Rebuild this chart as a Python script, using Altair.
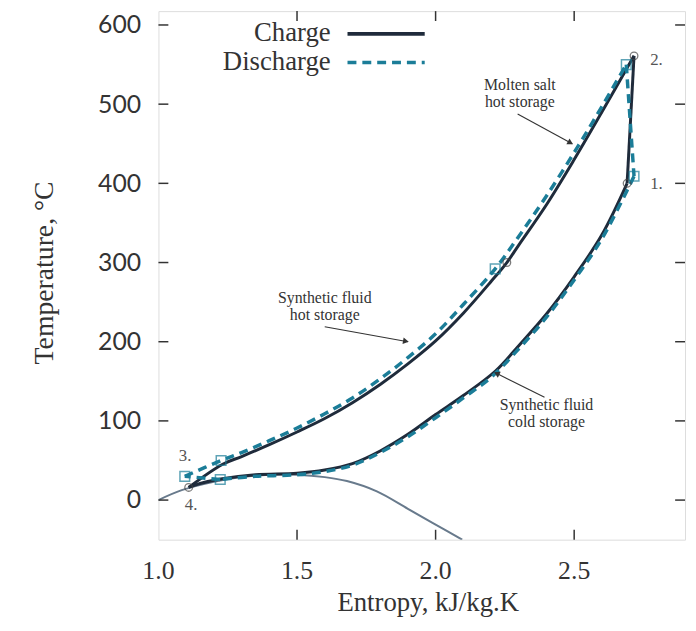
import math
import altair as alt
import pandas as pd

# ---------------- data ----------------
# Charge cycle (solid): hot-storage branch (4 -> 2), compression (2 -> 1), cold-storage branch (1 -> 4)
charge_hot_s = [1.109, 1.23, 1.3, 1.4, 1.5, 1.6, 1.7, 1.8, 1.9, 2.0, 2.1, 2.2, 2.257, 2.3, 2.4, 2.5, 2.6, 2.716]
charge_hot_T = [16, 45, 55, 70, 86, 103, 123, 146, 172, 201, 236, 276, 300, 322, 373, 430, 490, 561]
charge_comp_s = [2.716, 2.691]
charge_comp_T = [561, 400]
charge_cold_s = [2.691, 2.6, 2.5, 2.4, 2.3, 2.216, 2.1, 2.0, 1.9, 1.8, 1.7, 1.6, 1.5, 1.35, 1.23, 1.15, 1.109]
charge_cold_T = [400, 335, 282, 235, 195, 163, 132, 108, 83, 62, 46, 38, 34, 32, 27, 21, 16]

# Discharge cycle (dashed)
dis_hot_s = [1.095, 1.226, 1.3, 1.4, 1.5, 1.6, 1.7, 1.8, 1.9, 2.0, 2.1, 2.215, 2.3, 2.4, 2.5125, 2.6, 2.688]
dis_hot_T = [30, 50, 60, 75, 91, 109, 129, 153, 180, 210, 247, 292, 333, 384, 446, 497, 550]
dis_exp_s = [2.688, 2.716]
dis_exp_T = [550, 409]
dis_cold_s = [2.716, 2.6, 2.5, 2.4, 2.3, 2.2, 2.1, 2.0, 1.9, 1.8, 1.7, 1.6, 1.5, 1.35, 1.223]
dis_cold_T = [409, 330, 278, 231, 191, 155, 129, 104, 80, 60, 44, 36, 32, 30, 26]
dis_close_s = [1.223, 1.095]
dis_close_T = [26, 30]

# Grey curve
grey_s = [1.0, 1.084, 1.2, 1.3, 1.4, 1.5, 1.6, 1.68, 1.788, 1.9, 2.0, 2.096]
grey_T = [0, 12.5, 23, 29, 32, 32, 29, 24, 11, -11, -31, -50]

# State-point markers
charge_pts_s = [1.109, 2.257, 2.716, 2.691]
charge_pts_T = [16, 300, 561, 400]
dis_pts_s = [1.095, 1.226, 1.223, 2.215, 2.688, 2.716]
dis_pts_T = [30, 50, 26, 292, 550, 409]

# State-point labels
pt_labels = ["1.", "2.", "3.", "4."]
pt_labels_s = [2.797, 2.797, 1.096, 1.118]
pt_labels_T = [399, 556, 55, -6]

# Annotations
note_text = ["Molten salt", "hot storage", "Synthetic fluid", "hot storage", "Synthetic fluid", "cold storage"]
note_s = [2.304, 2.304, 1.6, 1.6, 2.4, 2.4]
note_T = [524, 503, 255, 234, 120, 99]
arrow_s0 = [2.296, 1.6, 2.393]
arrow_T0 = [487.5, 219, 130]
arrow_s1 = [2.493, 1.9, 2.214]
arrow_T1 = [450, 200, 161]

# Axes
x_ticks = [1.0, 1.5, 2.0, 2.5]
y_ticks = [0, 100, 200, 300, 400, 500, 600]
x_domain = [1.0, 2.9]
y_domain = [-50, 617.5]
legend_names = ["Charge", "Discharge"]

# ---------------- styling ----------------
W, H = 532, 534
PX_S = W / (x_domain[1] - x_domain[0])
PX_T = H / (y_domain[1] - y_domain[0])
C_CHARGE = "#1f2b3b"
C_DIS = "#1b7d98"
C_GREY = "#687a8c"
C_TEXT = "#333333"
SERIF = "Liberation Serif"


def seg(xs, ts, name):
    return pd.DataFrame({"s": xs, "T": ts, "i": list(range(len(xs))), "seg": name})


charge_df = pd.concat([
    seg(charge_hot_s, charge_hot_T, "hot"),
    seg(charge_comp_s, charge_comp_T, "comp"),
    seg(charge_cold_s, charge_cold_T, "cold"),
])
dis_df = pd.concat([
    seg(dis_hot_s, dis_hot_T, "hot"),
    seg(dis_exp_s, dis_exp_T, "exp"),
    seg(dis_cold_s, dis_cold_T, "cold"),
    seg(dis_close_s, dis_close_T, "close"),
])
grey_df = seg(grey_s, grey_T, "grey")

xs = alt.Scale(domain=x_domain, nice=False, zero=False)
ys = alt.Scale(domain=y_domain, nice=False, zero=False)
xaxis = alt.Axis(
    title="Entropy, kJ/kg.K", values=x_ticks, labels=False, ticks=False, domain=False, grid=False,
    titleFont=SERIF, titleFontSize=27, titleFontWeight="normal", titleColor=C_TEXT,
    titleX=W / 2 + 6, titleY=72, titleBaseline="alphabetic", titleAlign="center",
)
yaxis = alt.Axis(
    title="Temperature, °C", values=y_ticks, ticks=False, domain=False, grid=False,
    labelFont="Lato", labelFontSize=25, labelColor=C_TEXT, labelPadding=18, labelFlush=False,
    titleFont=SERIF, titleFontSize=28, titleFontWeight="normal", titleColor=C_TEXT,
    titleX=-115, titleY=264, titleAngle=270, titleBaseline="middle", titleAlign="center",
)
X = alt.X("s:Q", scale=xs, axis=xaxis)
Y = alt.Y("T:Q", scale=ys, axis=yaxis)

grey = alt.Chart(grey_df).mark_line(
    color=C_GREY, strokeWidth=2, interpolate="catmull-rom", clip=True).encode(
    x=X, y=Y, order="i:Q")
charge = alt.Chart(charge_df).mark_line(
    color=C_CHARGE, strokeWidth=3, interpolate="catmull-rom", clip=True).encode(
    x=X, y=Y, detail="seg:N", order="i:Q")
dis = alt.Chart(dis_df).mark_line(
    color=C_DIS, strokeWidth=3.5, strokeDash=[9, 6], interpolate="catmull-rom", clip=True).encode(
    x=X, y=Y, detail="seg:N", order="i:Q")

charge_pts = alt.Chart(pd.DataFrame({"s": charge_pts_s, "T": charge_pts_T})).mark_point(
    shape="circle", size=60, filled=False, color="#444444", strokeWidth=1.3).encode(x=X, y=Y)
dis_pts = alt.Chart(pd.DataFrame({"s": dis_pts_s, "T": dis_pts_T})).mark_point(
    shape="square", size=95, filled=False, color=C_DIS, strokeWidth=1.5).encode(x=X, y=Y)

pt_text = alt.Chart(pd.DataFrame({"s": pt_labels_s, "T": pt_labels_T, "t": pt_labels})).mark_text(
    font=SERIF, fontSize=17, color="#555555", align="center", baseline="middle").encode(
    x=X, y=Y, text="t:N")
notes = alt.Chart(pd.DataFrame({"s": note_s, "T": note_T, "t": note_text})).mark_text(
    font=SERIF, fontSize=16, color=C_TEXT, align="center", baseline="middle").encode(
    x=X, y=Y, text="t:N")

# x tick labels (serif, as in the reference)
xlab = alt.Chart(pd.DataFrame({"s": x_ticks, "t": [f"{v:.1f}" for v in x_ticks]})).mark_text(
    font=SERIF, fontSize=26, color=C_TEXT, align="center", baseline="alphabetic").encode(
    x=X, y=alt.value(H + 40), text="t:N")

# arrows
arr = pd.DataFrame({"s": arrow_s0, "T": arrow_T0, "s2": arrow_s1, "T2": arrow_T1})
dxp = (arr["s2"] - arr["s"]) * PX_S
dyp = -(arr["T2"] - arr["T"]) * PX_T
length = (dxp ** 2 + dyp ** 2) ** 0.5
arr["ang"] = [(math.degrees(math.atan2(a, -b)) + 360) % 360 for a, b in zip(dxp, dyp)]
arr["hs"] = arr["s2"] - (dxp / length) * 3 / PX_S
arr["hT"] = arr["T2"] + (dyp / length) * 3 / PX_T
arrow_lines = alt.Chart(arr).mark_rule(color=C_TEXT, strokeWidth=1.1).encode(
    x=X, y=Y, x2="s2:Q", y2="T2:Q")
arrow_heads = alt.Chart(arr).mark_point(
    shape="triangle", size=45, filled=True, color=C_TEXT, opacity=1).encode(
    x=alt.X("hs:Q", scale=xs, axis=xaxis), y=alt.Y("hT:Q", scale=ys, axis=yaxis),
    angle=alt.Angle("ang:Q", scale=None))

# inward frame ticks
yt = pd.DataFrame({"T": y_ticks})
xt = pd.DataFrame({"s": [v for v in x_ticks if v > x_domain[0]]})
tick_style = dict(color="#333333", strokeWidth=1.5)
lt = alt.Chart(yt).mark_rule(**tick_style).encode(y=Y, x=alt.value(0), x2=alt.value(10))
rt = alt.Chart(yt).mark_rule(**tick_style).encode(y=Y, x=alt.value(W - 10), x2=alt.value(W))
bt = alt.Chart(xt).mark_rule(**tick_style).encode(x=X, y=alt.value(H - 10), y2=alt.value(H))
tt = alt.Chart(xt).mark_rule(**tick_style).encode(x=X, y=alt.value(0), y2=alt.value(10))

# legend (drawn inside the plot, labels on the left of the line samples)
leg_c_t = alt.Chart(pd.DataFrame({"n": [legend_names[0]]})).mark_text(
    font=SERIF, fontSize=27, color=C_TEXT, align="right", baseline="alphabetic").encode(
    x=alt.value(174), y=alt.value(30), text="n:N")
leg_d_t = alt.Chart(pd.DataFrame({"n": [legend_names[1]]})).mark_text(
    font=SERIF, fontSize=27, color=C_TEXT, align="right", baseline="alphabetic").encode(
    x=alt.value(174), y=alt.value(59), text="n:N")
leg_c_l = alt.Chart(pd.DataFrame({"n": [legend_names[0]]})).mark_rule(
    color=C_CHARGE, strokeWidth=4).encode(x=alt.value(191), x2=alt.value(269), y=alt.value(23))
leg_d_l = alt.Chart(pd.DataFrame({"n": [legend_names[1]]})).mark_rule(
    color=C_DIS, strokeWidth=3.5, strokeDash=[9, 6]).encode(x=alt.value(191), x2=alt.value(269), y=alt.value(52))

chart = alt.layer(
    grey, charge, dis, charge_pts, dis_pts, pt_text, notes, xlab, arrow_lines, arrow_heads,
    lt, rt, bt, tt, leg_c_t, leg_d_t, leg_c_l, leg_d_l,
).properties(
    width=W, height=H,
    autosize=alt.AutoSizeParams(type="none"),
    padding={"left": 152, "top": 0, "right": 3, "bottom": 78},
).configure_view(
    stroke="#333333", strokeWidth=1.5,
).configure(background="white")

chart.save("out.html", embed_options={"renderer": "svg", "actions": False})
